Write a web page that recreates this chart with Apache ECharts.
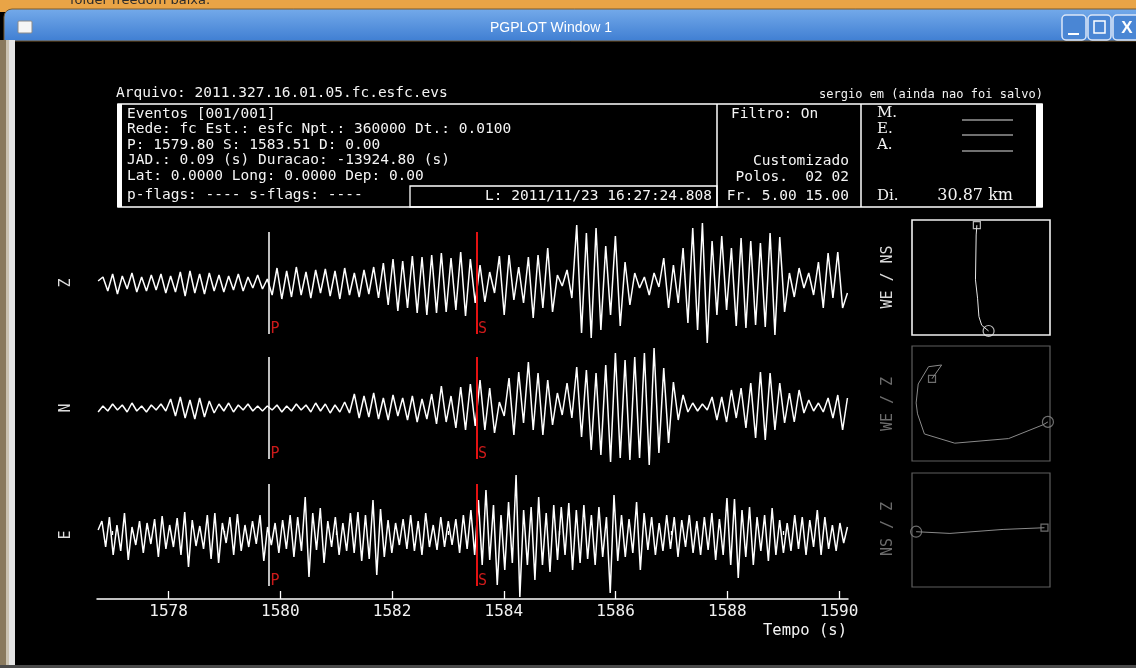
<!DOCTYPE html>
<html><head><meta charset="utf-8">
<script src="https://cdn.jsdelivr.net/npm/echarts@6/dist/echarts.min.js"></script>
<style>html,body{margin:0;padding:0;background:#000;overflow:hidden}#c{width:1136px;height:668px}</style>
</head><body><div id="c"></div><script>
// ---- data ----
const axisMin = 1576.72, axisMax = 1590.16;
const timeStart = 1576.74, timeEnd = 1590.15;
const majorTicks = [1578, 1580, 1582, 1584, 1586, 1588, 1590];
const minorTicks = [1577, 1579, 1581, 1583, 1585, 1587, 1589];
const pickP = 1579.80, pickS = 1583.51;
const traceNames = ['Z', 'N', 'E'];
const traceZ = [
  2, 6,-8, 9,-11, 7,-6, 10,-9, 6,-8, 8,-7, 9,-10, 7,-9, 11,-13, 12,-10, 9,-11, 10,-8, 8,-9, 7,-7, 9,-8, 6,-5, 8,-6, 4,
  -12, 15,-16, 12,-14, 16,-12, 11,-15, 13,-10, 14,-13, 12,-16, 15,-12, 10,-14, 13,-11, 16,-15,
  20,-22, 24,-28, 22,-25, 27,-30, 26,-32, 28,-30, 30,-29, 25,-27, 31,-33, 24,-20,
  18,-19, 11,-10, 27,-32, 28,-17, 16,-20, 26,-35, 28,-25, 35,-29, 8,-3, 13,-15, 58,-50, 50,-55, 55,-47, 37,-32,
  47,-43, 21,-22, 10,-5, 6,-12, 10,-4, 25,-25, 18,-20, 35,-40, 55,-47, 60,-60, 42,-32, 47,-27, 35,-43, 45,-45,
  42,-42, 40,-44, 50,-52, 46,-29, 10,-14, 15,-5, 10,-12, 21,-25, 30,-15, 31,-25, -10
];
const traceN = [
  -4, 2,-3, 4,-2, 3,-4, 5,-3, 2,-4, 3,-2, 4,-3, 9,-8, 11,-10, 8,-11, 10,-9, 7,-5, 4,-3, 5,-4, 3,-2, 4,-3, 2,-3, 2,
  -2, 3,-4, 2,-3, 4,-2, 3,-4, 5,-3, 4,-5, 3,-4, 6,-5, 14,-10, 12,-9, 15,-11, 10,-12, 13,-8, 10,-12, 12,-14, 9,-11, 14,-16, 22,-14, 12,-20, 21,-22, 24,-18,
  28,-22, 20,-25, 6,-8, 30,-27, 36,-15, 46,-22, 35,-27, 28,-17, 15,-7, 25,-10, 41,-29, 38,-42, 35,-47, 43,-54,
  55,-50, 48,-52, 51,-50, 55,-57, 60,-45, 40,-35, 26,-12, 13,-4, 5,-3, 4,-2, 11,-12, 11,-14, 18,-10, 20,-20,
  25,-30, 36,-32, 35,-22, 25,-15, 15,-14, 18,-5, 8,-3, 5,-4, 10,-10, 13,-22, 10
];
const traceE = [
  5, 14,-12, 18,-20, 10,-16, 22,-25, 8,-10, 14,-18, 12,-9, 16,-22, 19,-14, 10,-12, 17,-20, 23,-32, 15,-11, 9,-14, 20,-24, 22,-28, 12,-8, 18,-20, 21,-16, 10,-12, 14,-9, 20,-26, 8,
  -10, 12,-18, 15,-14, 20,-22, 18,-16, 38,-42, 22,-15, 27,-28, 14,-12, 18,-20, 12,-16, 22,-18, 23,-26, 20,-24, 35,-40, 26,-22, 15,-18, 12,-10, 16,-14, 20,-16, 14,-20, 22,-12, 10,-15, 18,-12, 14,-10, 16,-18, 20,-14, 25,-20,
  35,-30, 45,-25, 30,-50, 20,-35, 33,-28, 60,-62, 25,-30,
  28,-45, 38,-30, 22,-37, 30,-25, 28,-20, 32,-35, 25,-28, 30,-24, 20,-30, 28,-22, 18,-58, 40,-26,
  20,-22, 16,-18, 33,-35, 22,-15, 18,-20, 12,-16, 20,-14, 18,-22, 15,-12, 20,-18, 14,
  -20, 18,-15, 22,-25, 16,-20, 37,-30, 36,-43, 25,-22, 28,-30, 18,-16, 20,-26,
  27,-20, 15,-18, 12,-16, 20,-14, 18,-20, 15,-12, 25,-20, 18,-14, 10,-16, 12,-8, 8
];
const hodoWeNs = [[-0.06,0.91],[-0.07,0.74],[-0.08,-0.04],[-0.05,-0.36],[-0.03,-0.68],[0.01,-0.83],[0.11,-0.93]];
const hodoWeZ = [[-0.71,0.43],[-0.57,0.67],[-0.76,0.64],[-0.91,0.34],[-0.94,0.01],[-0.92,-0.18],[-0.82,-0.53],[-0.38,-0.69],[0.40,-0.61],[0.90,-0.37],[0.97,-0.32]];
const hodoNsZ = [[0.92,0.04],[0.32,0.01],[-0.45,-0.06],[-0.94,-0.03]];
const hodoNames = ['WE / NS', 'WE / Z', 'NS / Z'];

// ---- build ----
function toPairs(vals) {
  const n = vals.length, dt = (timeEnd - timeStart) / (n - 1);
  return vals.map((v, i) => [timeStart + i * dt, v]);
}
const traces = [traceZ, traceN, traceE];
const hodos = [hodoWeNs, hodoWeZ, hodoNsZ];
const MONO = '"DejaVu Sans Mono", monospace';
const traceTops = [232, 357, 484];
const traceCenters = [283, 408, 535];
const hodoTops = [220, 346, 473];
const hodoH = [115, 115, 114];
const hodoColors = ['#e6e6e6', '#8a8a8a', '#8a8a8a'];
const hodoBorder = ['#f0f0f0', '#5e5e5e', '#5e5e5e'];

const grid = [], xAxis = [], yAxis = [], series = [];
traces.forEach((vals, k) => {
  grid.push({ left: 97, width: 751, top: traceTops[k], height: 102, show: false });
  xAxis.push({
    type: 'value', gridIndex: k, min: axisMin, max: axisMax, show: k === 2,
    position: 'bottom', offset: 13,
    axisLine: { show: true, onZero: false, lineStyle: { color: '#fff', width: 1.5 } },
    axisTick: { show: true, inside: true, length: 8, customValues: majorTicks, lineStyle: { color: '#fff', width: 1.3 } },
    axisLabel: { show: true, customValues: majorTicks, formatter: v => String(Math.round(v)), color: '#f2f2f2', fontSize: 16, fontFamily: MONO, margin: 5 },
    splitLine: { show: false }
  });
  yAxis.push({ type: 'value', gridIndex: k, min: -51, max: 51, show: false });
  series.push({
    type: 'line', xAxisIndex: k, yAxisIndex: k, data: toPairs(vals),
    showSymbol: false, symbol: 'none', clip: false, animation: false,
    lineStyle: { color: '#ffffff', width: 1.5 },
    markLine: {
      silent: true, symbol: ['none', 'none'], animation: false, label: { show: false },
      data: [
        { xAxis: pickP, lineStyle: { color: '#ffffff', width: 1.5, type: 'solid' } },
        { xAxis: pickS, lineStyle: { color: '#e31212', width: 2, type: 'solid' } }
      ]
    }
  });
  series.push({
    type: 'scatter', xAxisIndex: k, yAxisIndex: k, symbolSize: 1, animation: false,
    itemStyle: { color: 'rgba(0,0,0,0)' },
    data: [{ name: 'P', value: [pickP, -46] }, { name: 'S', value: [pickS, -46] }],
    label: { show: true, position: 'right', distance: 1, formatter: '{b}', color: '#ff2020', fontSize: 15, fontFamily: MONO }
  });
});
// minor tick axis on the E grid
xAxis.push({
  type: 'value', gridIndex: 2, min: axisMin, max: axisMax, position: 'bottom', offset: 13,
  axisLine: { show: false }, axisLabel: { show: false }, splitLine: { show: false },
  axisTick: { show: true, inside: true, length: 4, customValues: minorTicks, lineStyle: { color: '#fff', width: 1.3 } }
});
hodos.forEach((pts, k) => {
  const gi = 3 + k;
  grid.push({ left: 912, width: 138, top: hodoTops[k], height: hodoH[k], show: true, borderColor: hodoBorder[k], borderWidth: k === 0 ? 1.6 : 1.2, backgroundColor: 'rgba(0,0,0,0)' });
  xAxis.push({ type: 'value', gridIndex: gi, min: -1, max: 1, show: false });
  yAxis.push({ type: 'value', gridIndex: gi, min: -1, max: 1, show: false });
  const xi = xAxis.length - 1, yi = yAxis.length - 1;
  series.push({ type: 'line', xAxisIndex: xi, yAxisIndex: yi, data: pts, showSymbol: false, symbol: 'none', clip: false, animation: false, lineStyle: { color: hodoColors[k], width: 1 } });
  series.push({
    type: 'scatter', xAxisIndex: xi, yAxisIndex: yi, animation: false, clip: false,
    itemStyle: { color: 'rgba(0,0,0,0)', borderColor: hodoColors[k], borderWidth: 1.2 },
    data: [{ value: pts[0], symbol: 'rect', symbolSize: 7 }, { value: pts[pts.length - 1], symbol: 'circle', symbolSize: 11 }]
  });
});

function txt(text, x, y, font, fill, align, extra) {
  return Object.assign({
    type: 'text', x: x, y: y, silent: true,
    style: { text: text, x: 0, y: 0, font: font, fill: fill, align: align || 'left', textAlign: align || 'left', verticalAlign: 'middle', textVerticalAlign: 'middle' }
  }, extra || {});
}
function ln(x1, y1, x2, y2, color, w) {
  return { type: 'line', silent: true, shape: { x1: x1, y1: y1, x2: x2, y2: y2 }, style: { stroke: color, lineWidth: w || 1.3 } };
}
function rc(x, y, w, h, fill, stroke, lw, r) {
  return { type: 'rect', silent: true, shape: { x: x, y: y, width: w, height: h, r: r || 0 }, style: { fill: fill, stroke: stroke || null, lineWidth: lw || 1 } };
}
const F = '14.5px ' + MONO;
const SER = '15px "DejaVu Serif", serif';
const W = '#f4f4f4';
const graphic = [
  // desktop strip & window chrome
  rc(0, 0, 1136, 12, '#e9a446'),
  { type: 'text', x: 70, y: 7, silent: true, style: { text: 'folder freedom baixa.', font: '13px "DejaVu Sans"', fill: '#2a2a2a', textAlign: 'left', align: 'left', verticalAlign: 'bottom', textVerticalAlign: 'bottom' } },
  { type: 'rect', silent: true, shape: { x: 4, y: 9, width: 1150, height: 32, r: [8, 8, 0, 0] },
    style: { fill: new echarts.graphic.LinearGradient(0, 0, 0, 1, [{ offset: 0, color: '#74aaea' }, { offset: 1, color: '#3f7ed2' }]), stroke: '#7a5a2c', lineWidth: 1 } },
  txt('PGPLOT Window 1', 551, 28, '14px "Liberation Sans", Arial, sans-serif', '#ffffff', 'center'),
  rc(18, 21, 14, 12, '#f6f6f6', '#8a8a8a', 1, 1),
  rc(1062, 15, 24, 25, '#4a86d4', '#dbe6f7', 1.5, 4),
  ln(1068, 34, 1079, 34, '#ffffff', 2),
  rc(1088, 15, 23, 25, '#4a86d4', '#dbe6f7', 1.5, 4),
  rc(1094, 21, 11, 12, null, '#ffffff', 1.5),
  rc(1113, 15, 28, 25, '#4a86d4', '#dbe6f7', 1.5, 4),
  txt('X', 1127, 28, 'bold 17px "Liberation Sans", sans-serif', '#ffffff', 'center'),
  rc(0, 40, 6, 628, '#8a7a5e'),
  rc(6, 40, 3, 628, '#cbc3b2'),
  rc(9, 40, 6, 628, '#e4e4e4'),
  rc(0, 665, 1136, 3, '#4a4a4a'),
  // header
  txt('Arquivo: 2011.327.16.01.05.fc.esfc.evs', 116, 93, F, W),
  txt('sergio em (ainda nao foi salvo)', 1043, 95, '12px ' + MONO, W, 'right'),
  rc(118, 104, 924, 103, null, '#ffffff', 1.5),
  rc(117, 104, 5, 103, '#ffffff'),
  rc(1036, 104, 7, 103, '#ffffff'),
  ln(717, 104, 717, 207, '#ffffff', 1.5),
  ln(861, 104, 861, 207, '#ffffff', 1.5),
  rc(410, 186, 307, 21, null, '#ffffff', 1.3),
  txt('Eventos [001/001]', 127, 114, F, W),
  txt('Rede: fc Est.: esfc Npt.: 360000 Dt.: 0.0100', 127, 129, F, W),
  txt('P: 1579.80 S: 1583.51 D: 0.00', 127, 145, F, W),
  txt('JAD.: 0.09 (s) Duracao: -13924.80 (s)', 127, 160, F, W),
  txt('Lat: 0.0000 Long: 0.0000 Dep: 0.00', 127, 176, F, W),
  txt('p-flags: ---- s-flags: ----', 127, 195, F, W),
  txt('L: 2011/11/23 16:27:24.808', 712, 196, F, W, 'right'),
  txt('Filtro: On', 731, 114, F, W),
  txt('Customizado', 849, 161, F, W, 'right'),
  txt('Polos.  02 02', 849, 177, F, W, 'right'),
  txt('Fr. 5.00 15.00', 849, 196, F, W, 'right'),
  txt('M.', 877, 113, SER, W),
  txt('E.', 877, 129, SER, W),
  txt('A.', 877, 145, SER, W),
  ln(962, 120, 1013, 120, '#e0e0e0', 1.2),
  ln(962, 135, 1013, 135, '#e0e0e0', 1.2),
  ln(962, 151, 1013, 151, '#e0e0e0', 1.2),
  txt('Di.', 877, 196, SER, W),
  txt('30.87 km', 1013, 196, '16px "DejaVu Serif", serif', W, 'right'),
  // axis title
  txt('Tempo (s)', 847, 631, '15.5px ' + MONO, W, 'right')
];
traceNames.forEach((nm, k) => graphic.push(txt(nm, 66, traceCenters[k], '15px ' + MONO, '#dcdcdc', 'center', { rotation: Math.PI / 2 })));
const hodoLabelY = [277, 404, 529];
const hodoLabelC = ['#dadada', '#6c6c6c', '#6c6c6c'];
hodoNames.forEach((nm, k) => graphic.push(txt(nm, 888, hodoLabelY[k], '15px ' + MONO, hodoLabelC[k], 'center', { rotation: Math.PI / 2 })));

const chart = echarts.init(document.getElementById('c'), null, { renderer: 'canvas' });
chart.setOption({
  backgroundColor: '#000000',
  animation: false,
  grid: grid, xAxis: xAxis, yAxis: yAxis, series: series,
  graphic: graphic
});
</script></body></html>
